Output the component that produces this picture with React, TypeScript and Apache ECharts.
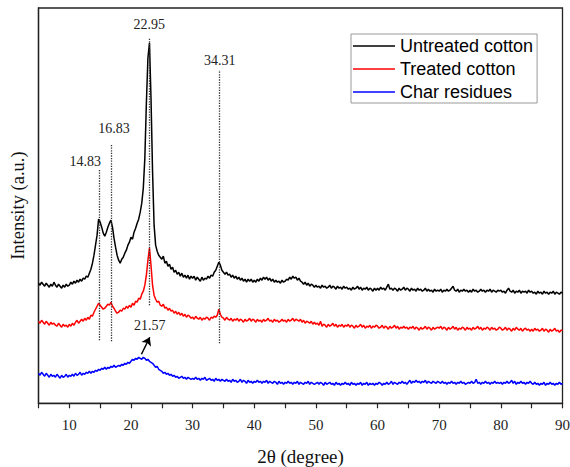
import React, { useEffect, useRef } from "react";
import * as echarts from "echarts";

// 2θ sampling of the patterns (degrees)
const X_START = 5;
const X_STEP = 0.25;

// Intensities (a.u.), one value every 0.25°, 5° → 90°
const untreatedCotton = [
  120,118,121,119,117,120,118,116,119,117,121,118,116,119,117,115,118,116,119,117,
  118,121,119,122,120,123,121,124,122,125,124,127,126,130,134,140,148,158,168,184,
  181,176,170,167,171,176,180,183,176,165,156,148,143,140,144,146,150,153,158,161,
  166,164,171,175,180,184,191,200,215,245,300,345,360,305,232,178,158,152,148,146,
  144,147,140,142,137,139,134,136,131,133,129,131,127,130,126,128,125,128,124,127,
  125,127,123,126,124,122,126,123,125,124,127,125,128,127,131,133,137,141,138,133,
  131,129,131,128,129,126,128,125,127,124,126,123,125,122,124,121,124,122,124,121,
  123,121,124,122,125,123,126,124,126,123,125,122,124,121,123,121,122,120,123,121,
  122,124,123,126,124,127,125,126,123,125,122,121,119,121,118,120,117,119,118,116,
  118,116,117,115,118,116,117,115,116,118,115,117,116,114,117,115,116,114,117,115,
  116,114,115,113,116,114,115,117,114,116,113,115,114,116,113,115,114,112,115,113,
  115,113,116,114,115,113,116,119,114,115,113,115,114,112,115,113,114,116,113,115,
  114,112,115,113,114,112,115,113,114,112,113,115,112,114,112,113,111,114,112,113,
  112,114,111,113,112,114,112,113,115,117,113,112,114,111,113,112,114,112,113,111,
  113,111,114,112,113,111,112,114,112,113,111,113,112,114,111,113,112,111,113,112,
  113,111,112,110,113,115,112,111,113,110,112,111,113,110,112,111,112,110,113,111,
  112,110,111,109,112,110,111,109,112,110,111,109,111,110,112,109,111,110,109,111,
  110,
];

const treatedCotton = [
  82,80,83,81,79,82,80,78,81,79,80,78,77,80,78,76,79,77,78,76,
  79,77,80,78,81,83,80,82,84,82,85,83,86,84,88,87,91,94,97,100,
  98,96,94,95,97,99,98,101,97,95,92,90,91,93,92,95,94,97,95,98,
  96,100,98,102,101,105,104,109,112,118,128,143,155,138,118,108,104,101,102,98,
  97,99,95,96,93,95,92,93,90,92,89,91,88,90,87,89,86,88,87,85,
  86,84,87,85,84,86,83,85,84,86,85,83,86,85,87,86,88,94,89,86,
  85,83,86,84,83,85,82,84,83,85,82,84,83,81,84,82,83,85,82,84,
  83,81,84,82,83,81,84,82,83,85,82,83,81,84,82,83,81,82,84,82,
  83,81,84,82,83,85,82,84,83,82,84,81,83,80,82,81,80,82,79,81,
  79,80,78,82,77,79,78,76,79,77,78,80,77,79,76,78,77,79,76,78,
  77,79,76,78,77,75,78,76,77,79,76,78,75,77,76,78,75,77,76,78,
  77,75,76,78,75,77,76,74,77,75,76,78,75,77,74,76,75,77,75,76,
  74,76,75,77,74,76,75,73,76,74,75,77,74,76,75,73,76,74,75,76,
  75,77,74,76,75,73,76,74,75,77,74,76,73,75,74,76,75,73,76,74,
  75,73,76,74,75,77,74,76,73,75,74,76,75,73,76,74,75,73,74,76,
  75,73,74,76,73,75,74,72,75,73,76,74,73,75,72,74,75,73,74,72,
  74,72,75,73,74,72,73,75,72,74,73,71,74,72,73,75,72,73,71,73,
  73,
];

const charResidues = [
  30,28,31,29,27,30,28,26,29,27,28,26,29,27,25,28,26,27,29,26,
  28,27,29,27,30,28,29,31,28,30,29,31,30,32,30,32,31,33,32,34,
  33,35,34,36,34,36,35,37,36,38,36,37,38,37,39,38,40,39,41,40,
  42,44,43,45,44,46,45,44,46,45,43,44,42,41,40,38,36,37,34,33,
  32,30,31,29,30,28,29,27,28,26,27,25,26,27,25,26,24,26,25,24,
  25,24,26,24,25,23,25,24,26,23,24,25,23,24,22,25,23,24,22,24,
  23,22,24,22,23,21,24,22,23,21,22,24,21,23,22,20,23,21,22,20,
  22,21,23,21,22,20,22,21,23,20,22,21,20,22,21,19,22,20,21,19,
  21,20,22,20,21,19,21,20,22,19,21,20,19,21,20,22,19,21,20,19,
  20,21,19,21,20,18,21,19,20,21,19,20,18,21,19,20,18,20,19,21,
  19,20,18,21,19,20,18,20,19,21,18,20,19,21,18,20,19,20,18,20,
  19,21,20,18,20,19,21,19,20,22,19,21,20,19,21,20,22,20,21,19,
  21,23,20,22,21,23,21,22,20,22,21,23,20,22,21,20,22,21,20,22,
  21,20,22,20,21,19,21,20,22,20,21,19,21,20,22,20,21,19,20,21,
  20,22,20,21,24,20,21,19,21,20,22,20,21,19,21,20,22,20,21,20,
  21,19,21,20,22,20,21,23,20,22,19,21,20,22,20,21,19,21,20,22,
  20,19,21,19,20,18,20,19,21,18,20,19,21,19,20,18,20,19,21,19,
  20,
];

// Peak positions marked by dotted guide lines: [2θ, lower intensity, upper intensity]
const peakGuides: [number, number, number][] = [
  [14.83, 63, 233],
  [16.83, 62, 258],
  [22.95, 98, 365],
  [34.31, 60, 333],
];
// Peak labels: [text, 2θ, intensity at label centre]
const peakLabels: [string, number, number][] = [
  ["14.83", 12.6, 242],
  ["16.83", 17.25, 275],
  ["22.95", 22.95, 379],
  ["34.31", 34.4, 343],
];
// Char residue broad peak label and arrow
const charLabel: [string, number, number] = ["21.57", 23.05, 78];
const charArrow: [number, number, number, number] = [21.7, 49, 23.05, 66];

const SERIF = "Liberation Serif";
const SANS = "Liberation Sans";

const toPairs = (ys: number[]) => ys.map((y, i) => [X_START + i * X_STEP, y]);

export default function App() {
  const ref = useRef<HTMLDivElement>(null);
  useEffect(() => {
    if (!ref.current) return;
    const chart = echarts.init(ref.current, undefined, { renderer: "svg" });
    const labelStyle = {
      show: true,
      position: "inside",
      formatter: "{b}",
      color: "#222",
      fontFamily: SERIF,
      fontSize: 14,
    };
    chart.setOption({
      animation: false,
      backgroundColor: "#fff",
      grid: {
        left: 38.5,
        right: 7.5,
        top: 8,
        bottom: 63.7,
        outerBoundsMode: "none",
        containLabel: false,
        show: true,
        borderColor: "#222",
        borderWidth: 1.3,
      },
      legend: {
        orient: "vertical",
        left: 351,
        top: 34,
        padding: [3, 4, 2, 2],
        icon: "rect",
        itemWidth: 42,
        itemHeight: 1.5,
        itemGap: 5,
        borderColor: "#999",
        borderWidth: 1,
        backgroundColor: "#fff",
        textStyle: { fontFamily: SANS, fontSize: 18, lineHeight: 18, color: "#000" },
        data: ["Untreated cotton", "Treated cotton", "Char residues"],
      },
      xAxis: {
        type: "value",
        min: 5,
        max: 90,
        interval: 5,
        axisLine: { lineStyle: { color: "#222", width: 1.3 } },
        axisTick: { length: 5, lineStyle: { color: "#222", width: 1.2 } },
        axisLabel: {
          formatter: (v: number) => (v % 10 === 0 ? String(v) : ""),
          fontFamily: SERIF,
          fontSize: 15,
          color: "#222",
          margin: 14,
        },
        splitLine: { show: false },
        name: "2θ (degree)",
        nameLocation: "middle",
        nameGap: 44,
        nameTextStyle: { fontFamily: SERIF, fontSize: 19, color: "#111" },
      },
      yAxis: {
        type: "value",
        min: 0,
        max: 395,
        axisLine: { show: true, lineStyle: { color: "#222", width: 1.3 } },
        axisTick: { show: false },
        axisLabel: { show: false },
        splitLine: { show: false },
        name: "Intensity (a.u.)",
        nameLocation: "middle",
        nameGap: 11,
        nameRotate: 90,
        nameTextStyle: { fontFamily: SERIF, fontSize: 18.5, color: "#111" },
      },
      series: [
        {
          name: "Untreated cotton",
          type: "line",
          data: toPairs(untreatedCotton),
          showSymbol: false,
          symbol: "none",
          lineStyle: { color: "#000", width: 1.5 },
          itemStyle: { color: "#000" },
          z: 3,
          markLine: {
            silent: true,
            symbol: ["none", "none"],
            lineStyle: { type: "dotted", color: "#333", width: 1.3 },
            label: { show: false },
            data: peakGuides.map(([x, y0, y1]) => [
              { coord: [x, y0] },
              { coord: [x, y1] },
            ]),
          },
          markPoint: {
            silent: true,
            symbol: "circle",
            symbolSize: 0,
            label: labelStyle,
            data: peakLabels.map(([t, x, y]) => ({ name: t, coord: [x, y] })),
          },
        },
        {
          name: "Treated cotton",
          type: "line",
          data: toPairs(treatedCotton),
          showSymbol: false,
          symbol: "none",
          lineStyle: { color: "#ff0000", width: 1.5 },
          itemStyle: { color: "#ff0000" },
          z: 2,
        },
        {
          name: "Char residues",
          type: "line",
          data: toPairs(charResidues),
          showSymbol: false,
          symbol: "none",
          lineStyle: { color: "#0000ff", width: 1.5 },
          itemStyle: { color: "#0000ff" },
          z: 2,
          markLine: {
            silent: true,
            symbol: ["none", "arrow"],
            symbolSize: 8,
            lineStyle: { type: "solid", color: "#000", width: 1.5 },
            label: { show: false },
            data: [
              [
                { coord: [charArrow[0], charArrow[1]] },
                { coord: [charArrow[2], charArrow[3]] },
              ],
            ],
          },
          markPoint: {
            silent: true,
            symbol: "circle",
            symbolSize: 0,
            label: labelStyle,
            data: [{ name: charLabel[0], coord: [charLabel[1], charLabel[2]] }],
          },
        },
      ],
    });
    return () => chart.dispose();
  }, []);
  return (
    <div
      ref={ref}
      style={{ position: "fixed", left: 0, top: 0, width: 570, height: 467 }}
    />
  );
}
